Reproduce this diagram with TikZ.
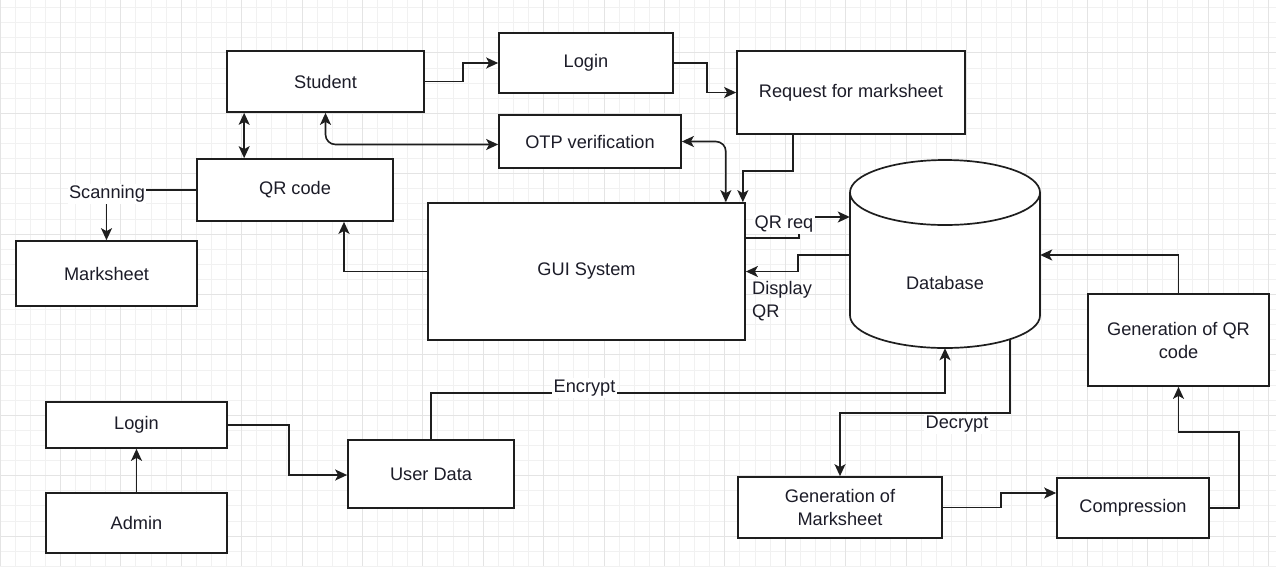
\documentclass[tikz,border=0pt]{standalone}
\usepackage{fontspec}
\setmainfont{Liberation Sans}
\usetikzlibrary{arrows.meta,calc}
\definecolor{edge}{HTML}{1E1E1E}
\definecolor{txt}{HTML}{1C1C28}
\definecolor{gridminor}{HTML}{F1F1F1}
\definecolor{gridmajor}{HTML}{E4E4E4}
\begin{document}
\begin{tikzpicture}[x=1pt,y=-1pt,
  every node/.style={font=\fontsize{18.2}{23}\selectfont, text=txt},
  box/.style={draw=edge, line width=1.7pt, fill=white, inner sep=0pt, align=center},
  arr/.style={draw=edge, line width=1.6pt, -{Stealth[length=12pt,width=11pt,inset=3pt]}},
  darr/.style={draw=edge, line width=1.6pt, {Stealth[length=12pt,width=11pt,inset=3pt]}-{Stealth[length=12pt,width=11pt,inset=3pt]}},
  lbl/.style={fill=white, inner sep=1.5pt}]
\useasboundingbox (0,0) rectangle (1276,566);
\fill[white] (0,0) rectangle (1276,566);
% grid
\foreach \i in {0,...,85} {\draw[gridminor, line width=1pt] ({15.1*\i},0) -- ({15.1*\i},566);}
\foreach \j in {0,...,37} {\draw[gridminor, line width=1pt] (0,{7.6+15.1*\j}) -- (1276,{7.6+15.1*\j});}
\foreach \i in {0,...,21} {\draw[gridmajor, line width=1pt] ({60.4*\i},0) -- ({60.4*\i},566);}
\foreach \j in {0,...,8} {\draw[gridmajor, line width=1pt] (0,{52.9+60.4*\j}) -- (1276,{52.9+60.4*\j});}

% boxes
\node[box, minimum width=197pt, minimum height=61pt] (student) at (325.5,81.5) {Student};
\node[box, minimum width=196pt, minimum height=62pt] (qr) at (295,190) {QR code};
\node[box, minimum width=181pt, minimum height=65pt] (marks) at (106.5,273.5) {Marksheet};
\node[box, minimum width=174pt, minimum height=60pt] (login1) at (586,63) {Login};
\node[box, minimum width=182pt, minimum height=53pt] (otp) at (590,141.5) {OTP verification};
\node[box, minimum width=228pt, minimum height=83pt] (req) at (851,92.5) {Request for marksheet};
\node[box, minimum width=317pt, minimum height=137pt] (gui) at (586.5,271.5) {GUI System};
\node[box, minimum width=181pt, minimum height=46pt] (login2) at (136.5,425) {Login};
\node[box, minimum width=181pt, minimum height=60pt] (admin) at (136.5,523) {Admin};
\node[box, minimum width=166pt, minimum height=68pt] (user) at (431,474) {User Data};
\node[box, minimum width=204pt, minimum height=61pt] (genms) at (840,507.5) {Generation of\\Marksheet};
\node[box, minimum width=152pt, minimum height=60pt] (comp) at (1133,508) {Compression};
\node[box, minimum width=181pt, minimum height=92pt] (genqr) at (1178.5,340) {Generation of QR\\code};

% database cylinder
\node[minimum width=190pt, minimum height=188pt, inner sep=0pt] (db) at (945,254) {};
\draw[draw=edge, line width=1.7pt, fill=white]
  (850,192.5) -- (850,315.5)
  arc[start angle=180, end angle=360, x radius=95pt, y radius=32.5pt]
  -- (1040,192.5)
  arc[start angle=0, end angle=180, x radius=95pt, y radius=32.5pt] -- cycle;
\draw[draw=edge, line width=1.7pt] (850,192.5) arc[start angle=180, end angle=360, x radius=95pt, y radius=32.5pt];
\node (dblabel) at (945,283) {Database};

% connectors
\draw[arr] (student.east) -- ++(38,0) |- (login1.west);
\draw[arr] (login1.east) -- ++(33,0) |- (req.west);
\draw[darr] ([xshift=18pt]student.south west) -- ([xshift=48pt]qr.north west);
\draw[darr, rounded corners=10pt] (student.south) |- ([yshift=-3pt]otp.west);
\draw[darr, rounded corners=10pt] (otp.east) -| ([xshift=-20pt]gui.north east);
\draw[arr] ([xshift=57pt]req.south west) -- ++(0,36) -| ([xshift=-3pt]gui.north east);
\draw[arr] (gui.west) -| ([xshift=49pt]qr.south);
\draw[arr] ([yshift=33.5pt]gui.east) -- ++(53,0) |- ([yshift=37pt]db.west);
\draw[arr] ([yshift=-1pt]db.west) -- ++(-52,0) |- (gui.east);
\draw[arr] (qr.west) -| (marks.north);
\draw[arr] (genqr.north) |- ([yshift=-1pt]db.east);
\draw[arr] (comp.east) -- ++(29,0) -- ++(0,-76) -| (genqr.south);
\draw[arr] (genms.east) -- ++(58,0) |- ([yshift=15pt]comp.west);
\draw[arr] ([xshift=-30pt,yshift=9pt]db.south east) -- ++(0,74) -| (genms.north);
\draw[arr] (user.north) -- ++(0,-46) -| (db.south);
\draw[arr] (login2.east) -- ++(61,0) |- ([yshift=-1pt]user.west);
\draw[arr] (admin.north) -- (login2.south);

% labels
\node[lbl] (scan) at (107,194) {Scanning};
\node[lbl] (qrreq) at (784,224.5) {QR req};
\node[align=left, anchor=north west, inner sep=0pt] (disp) at (752,281) {Display\\QR};
\node[lbl] (enc) at (584.5,388) {Encrypt};
\node[lbl] (dec) at (957,424.5) {Decrypt};
\end{tikzpicture}
\end{document}
